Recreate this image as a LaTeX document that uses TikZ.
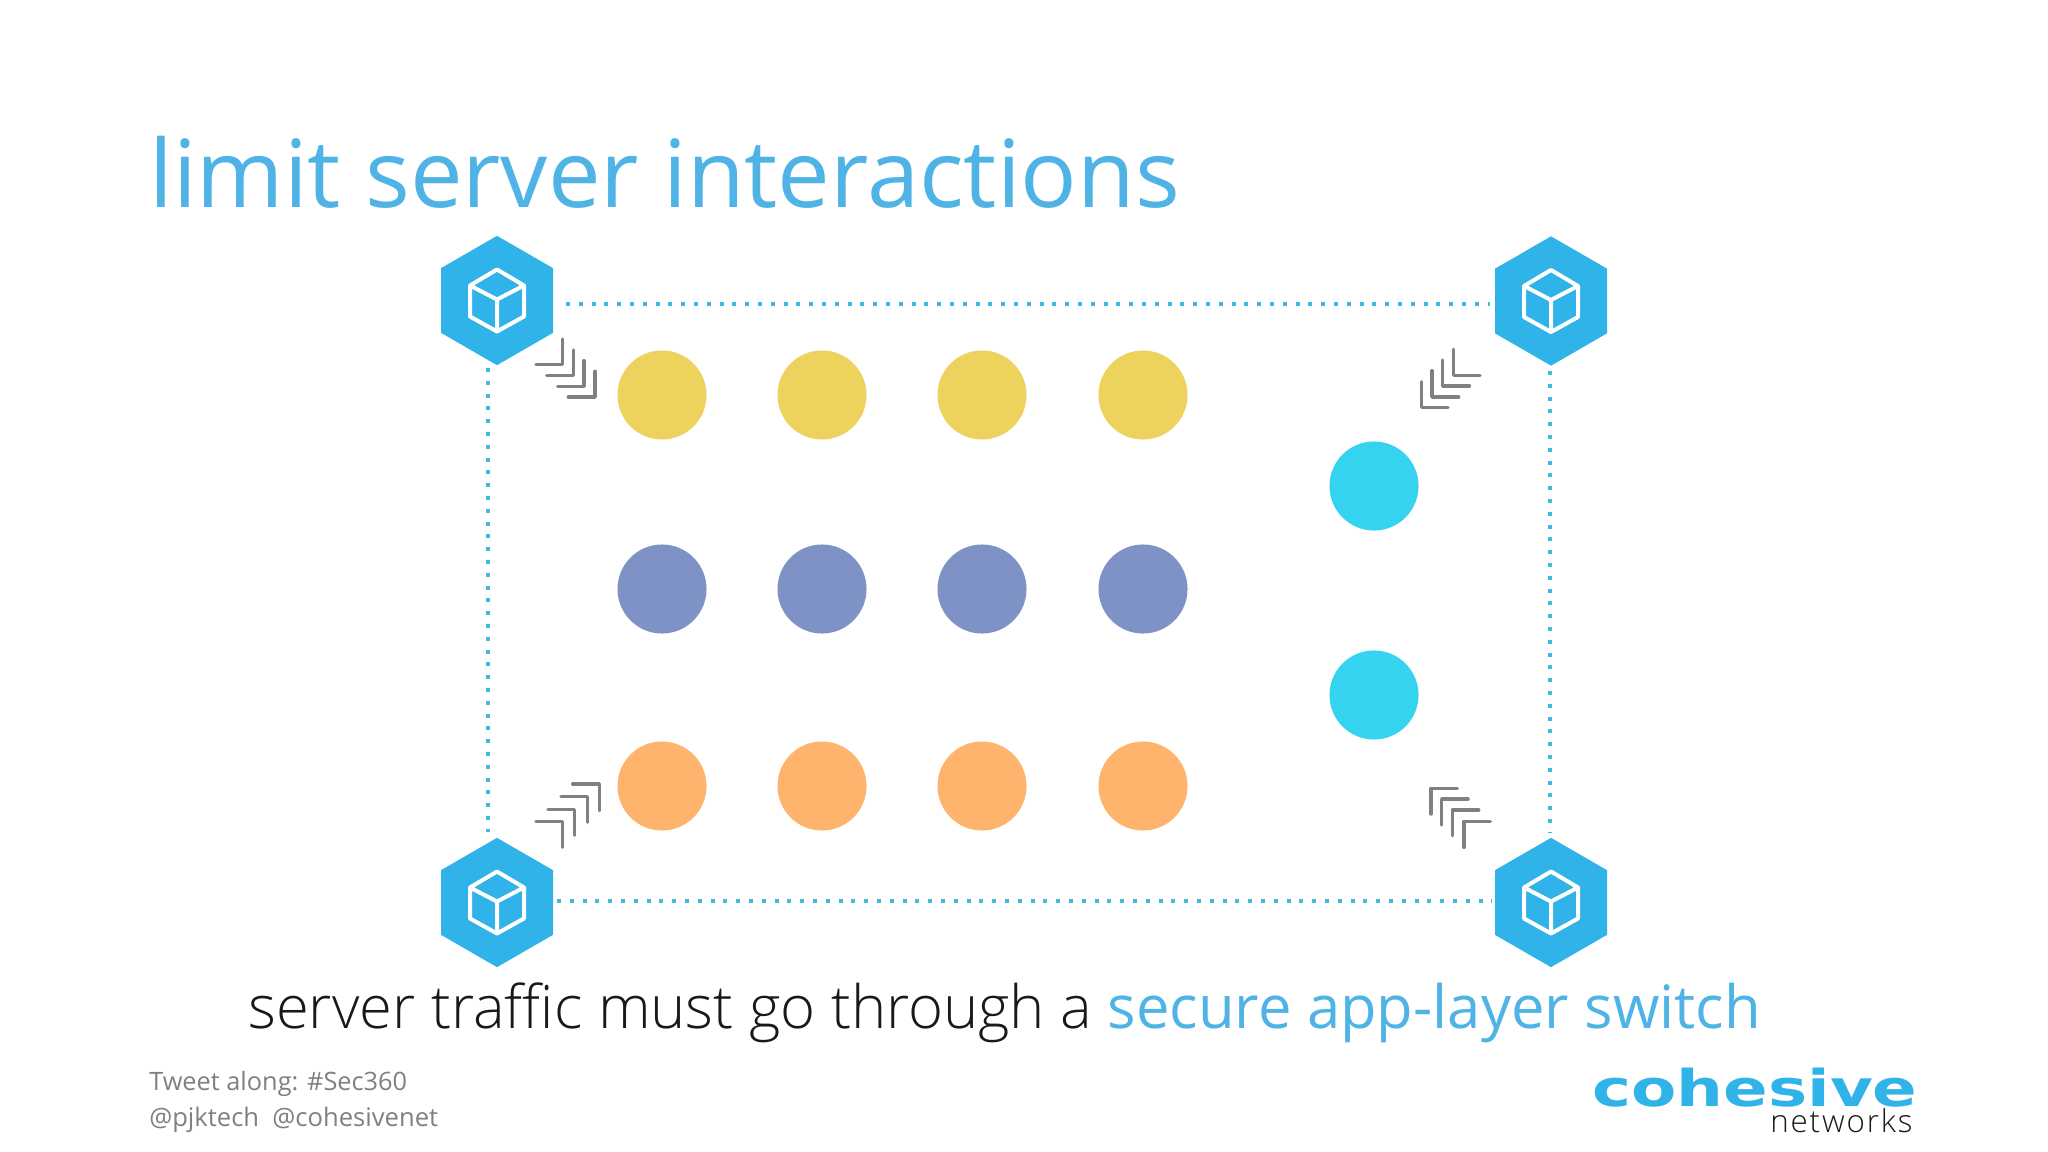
\documentclass[tikz,border=0pt]{standalone}
\usepackage{fontspec}
\setmainfont{Open Sans}
\newfontfamily\lightfont{Open Sans Light}
\newfontfamily\spacedfont{Open Sans Light}[LetterSpace=6]
\newfontfamily\logofont{DejaVu Sans}[BoldFont={DejaVu Sans Bold}]
\usepackage{tikz}
\usetikzlibrary{shapes.geometric}
\definecolor{hexblue}{HTML}{30B3E8}
\definecolor{dotblue}{HTML}{3DBBE0}
\definecolor{titleblue}{HTML}{4FB3E6}
\definecolor{serveryellow}{HTML}{EDD25E}
\definecolor{serverpurple}{HTML}{7F92C6}
\definecolor{serverorange}{HTML}{FFB46E}
\definecolor{servercyan}{HTML}{35D3F0}
\definecolor{arrowgray}{HTML}{808080}
\definecolor{footgray}{HTML}{808080}
\tikzset{hexnode/.style={regular polygon,regular polygon sides=6,regular polygon rotate=30,fill=hexblue,minimum size=97pt,inner sep=0pt},
    server/.style={circle,minimum size=66.8pt,inner sep=0pt},
    dotline/.style={dotblue,line width=3pt,dash pattern=on 3pt off 6.6pt},
    chevron/.style={arrowgray,line width=2.6pt,line cap=round,line join=round},
    cube/.pic={\draw[white,line width=3pt,line join=round] (0,-31) -- (27,-15) -- (27,16) -- (0,31) -- (-27,16) -- (-27,-15) -- cycle (-27,-15) -- (0,-1) -- (27,-15) (0,-1) -- (0,31);}}

\begin{document}
\begin{tikzpicture}[x=0.75pt,y=0.75pt,yscale=-1,xscale=1]
\useasboundingbox (0,0) rectangle (2048,1152);

%Hexagons
\node (hextl) [hexnode] at (497,300.5) {};
\node (hextr) [hexnode] at (1551,301) {};
\node (hexbl) [hexnode] at (497,902.5) {};
\node (hexbr) [hexnode] at (1551,902.5) {};
\pic[transform shape] at (hextl) {cube};
\pic[transform shape] at (hextr) {cube};
\pic[transform shape] at (hexbl) {cube};
\pic[transform shape] at (hexbr) {cube};

%Dotted ends
\coordinate (tlright) at (566,303.5);
\coordinate (trleft) at (1490,303.5);
\coordinate (tldown) at (488,368);
\coordinate (blup) at (488,832);
\coordinate (trdown) at (1550,371);
\coordinate (brup) at (1550,833);
\coordinate (blright) at (557,901);
\coordinate (brleft) at (1492,901);
\draw[dotline] (tlright) -- (trleft);
\draw[dotline] (tldown) -- (blup);
\draw[dotline] (trdown) -- (brup);
\draw[dotline] (blright) -- (brleft);

%Servers
\node (yellowa) [server,fill=serveryellow] at (662,395) {};
\node (yellowb) [server,fill=serveryellow] at (822,395) {};
\node (yellowc) [server,fill=serveryellow] at (982,395) {};
\node (yellowd) [server,fill=serveryellow] at (1143,395) {};
\node (purplea) [server,fill=serverpurple] at (662,589) {};
\node (purpleb) [server,fill=serverpurple] at (822,589) {};
\node (purplec) [server,fill=serverpurple] at (982,589) {};
\node (purpled) [server,fill=serverpurple] at (1143,589) {};
\node (orangea) [server,fill=serverorange] at (662,786) {};
\node (orangeb) [server,fill=serverorange] at (822,786) {};
\node (orangec) [server,fill=serverorange] at (982,786) {};
\node (oranged) [server,fill=serverorange] at (1143,786) {};
\node (cyana) [server,fill=servercyan] at (1374,486) {};
\node (cyanb) [server,fill=servercyan] at (1374,695) {};

%Chevrons top left
\draw[chevron] (536,364.7) -- (562.7,364.7) -- (562.7,339);
\draw[chevron] (546.7,375.3) -- (573.3,375.3) -- (573.3,350);
\draw[chevron] (557.7,386.3) -- (584,386.3) -- (584,360.7);
\draw[chevron] (568.3,397) -- (595,397) -- (595,371.3);
%Chevrons top right
\draw[chevron] (1480,375.3) -- (1453.3,375.3) -- (1453.3,349.3);
\draw[chevron] (1469.3,386) -- (1442.7,386) -- (1442.7,360);
\draw[chevron] (1458.7,397) -- (1432,397) -- (1432,370.7);
\draw[chevron] (1448,407.7) -- (1421.3,407.7) -- (1421.3,381.7);
%Chevrons bottom left
\draw[chevron] (536,821.3) -- (562.3,821.3) -- (562.3,847.3);
\draw[chevron] (548,809.3) -- (574.3,809.3) -- (574.3,835.3);
\draw[chevron] (561,796.3) -- (587.3,796.3) -- (587.3,822.3);
\draw[chevron] (572.7,784) -- (599.3,784) -- (599.3,810.7);
%Chevrons bottom right
\draw[chevron] (1490.3,821.3) -- (1464,821.3) -- (1464,847.3);
\draw[chevron] (1478.7,810) -- (1452.3,810) -- (1452.3,835.7);
\draw[chevron] (1468,799) -- (1441.7,799) -- (1441.7,825);
\draw[chevron] (1457.3,788.3) -- (1431,788.3) -- (1431,814);

% Text Node
\draw (149,207) node (title) [anchor=base west][inner sep=0pt] [font=\fontsize{70.4}{70.4}\selectfont,text=titleblue] {limit server interactions};
% Text Node
\draw (248,1028) node (caption) [anchor=base west][inner sep=0pt] [font=\fontsize{44.8}{44.8}\selectfont,text=black!90] {{\lightfont server traffic must go through a }\textcolor{titleblue}{secure app-layer switch}};
% Text Node
\draw (149,1090) node (tweet) [anchor=base west][inner sep=0pt] [font=\fontsize{19}{19}\selectfont,text=footgray] {Tweet along: \#Sec360};
% Text Node
\draw (149,1126) node (handles) [anchor=base west][inner sep=0pt] [font=\fontsize{19.2}{19.2}\selectfont,text=footgray] {@pjktech\ \ @cohesivenet};
% Text Node
\draw (1592,1106) node (logo) [anchor=base west][inner sep=0pt] [font=\logofont\bfseries\fontsize{38}{38}\selectfont,text=hexblue,xscale=1.3] {cohesive};
% Text Node
\draw (1770,1132) node (networks) [anchor=base west][inner sep=0pt] [font=\spacedfont\fontsize{23.5}{23.5}\selectfont,text=black!90] {networks};
\end{tikzpicture}
\end{document}
